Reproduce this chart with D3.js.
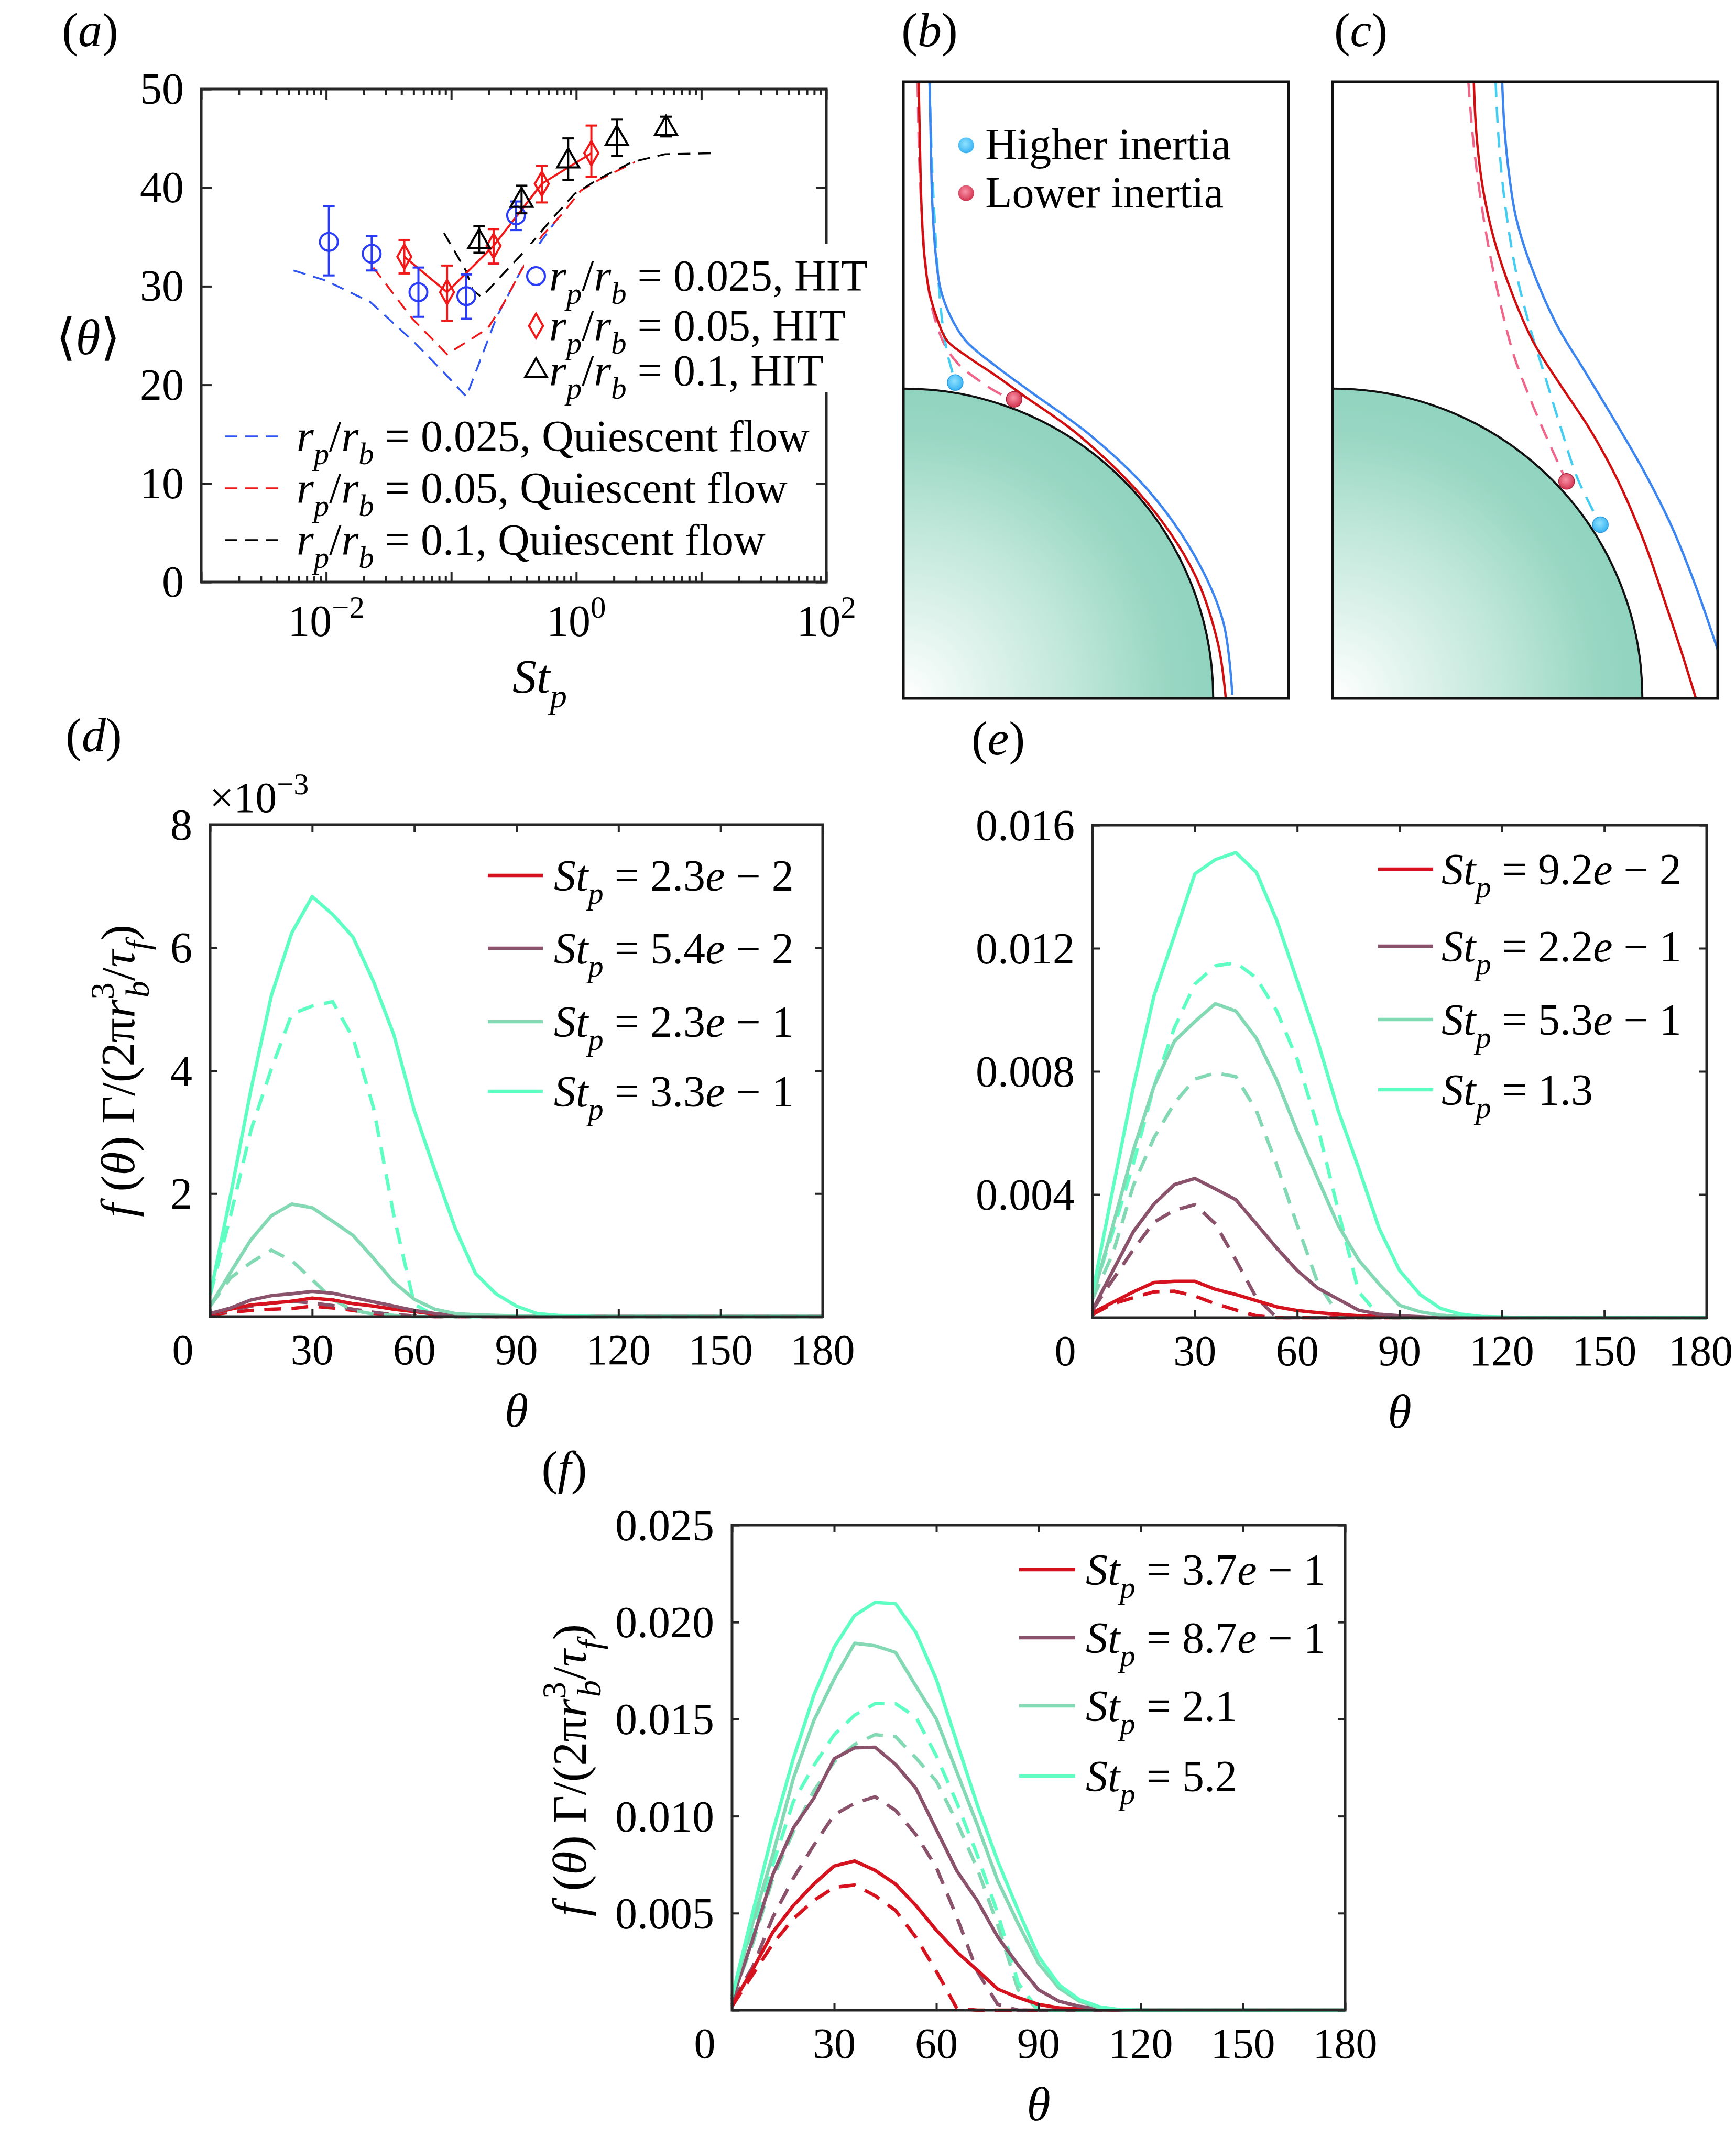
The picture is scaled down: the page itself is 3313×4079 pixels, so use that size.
<!DOCTYPE html>
<html lang="en">
<head>
<meta charset="UTF-8">
<title>Collision angle of particles on a bubble</title>
<style>
  body { margin: 0; background: #fff; }
  svg text { font-family: 'Liberation Serif', 'Times New Roman', serif; fill: #000; }
</style>
</head>
<body>
<script src="https://d3js.org/d3.v7.min.js"></script>
<script>
// ---------- panel (a): mean collision angle vs St_p ----------
const stHit025 = [0.0105, 0.0231, 0.0546, 0.132, 0.330];
const thHit025 = [34.5, 33.3, 29.4, 29.0, 37.2];
const loHit025 = [31.1, 31.6, 26.9, 26.7, 35.7];
const hiHit025 = [38.1, 35.1, 31.9, 31.2, 38.6];

const stHit05 = [0.0421, 0.0925, 0.218, 0.530, 1.32];
const thHit05 = [33.0, 29.4, 34.1, 40.4, 43.5];
const loHit05 = [31.3, 26.5, 32.3, 38.5, 41.1];
const hiHit05 = [34.7, 32.1, 35.8, 42.2, 46.3];

const stHit1 = [0.167, 0.365, 0.861, 2.11, 5.22];
const thHit1 = [34.5, 38.7, 42.7, 45.0, 46.0];
const loHit1 = [33.4, 37.4, 40.8, 43.2, 45.2];
const hiHit1 = [36.1, 40.2, 45.0, 46.9, 47.2];

const stQui025 = [0.00548, 0.00982, 0.0225, 0.0489, 0.0851, 0.132, 0.231, 0.379, 0.780];
const thQui025 = [31.6, 30.6, 28.4, 24.5, 21.4, 18.8, 26.9, 32.1, 37.6];
const stQui05 = [0.0238, 0.0489, 0.0925, 0.195, 0.258, 0.359, 0.530, 0.780, 1.087, 1.52, 2.94];
const thQui05 = [31.9, 26.7, 23.1, 25.7, 28.1, 31.5, 35.1, 37.4, 39.7, 40.8, 42.6];
const stQui1 = [0.0875, 0.132, 0.148, 0.175, 0.258, 0.402, 0.625, 0.973, 1.52, 2.79, 5.13, 12.4];
const thQui1 = [35.4, 31.5, 29.6, 28.9, 31.2, 33.8, 36.7, 39.4, 40.9, 42.6, 43.4, 43.5];

const ratioLabels = ["0.025", "0.05", "0.1"];
const yTicksA = [0, 10, 20, 30, 40, 50];
const xLabelsA = [1e-2, 1e0, 1e2];

// ---------- panels (d)-(f): f(theta) Gamma / (2 pi rb^3 / tau_f), units of 1e-3 ----------
const theta = [0, 6, 12, 18, 24, 30, 36, 42, 48, 54, 60, 66, 72, 78, 84, 90,
  96, 102, 108, 114, 120, 126, 132, 138, 144, 150, 156, 162, 168, 174, 180];
const thetaTicks = [0, 30, 60, 90, 120, 150, 180];

const dRedHit = [0.04, 0.12, 0.19, 0.22, 0.25, 0.30, 0.27, 0.21, 0.17, 0.12,
  0.08, 0.04, 0.02, 0.01, 0, 0, 0, 0, 0, 0, 0, 0, 0, 0, 0, 0, 0, 0, 0, 0, 0];
const dRedQui = [0.02, 0.07, 0.10, 0.12, 0.13, 0.17, 0.14, 0.10, 0.05, 0.03,
  0.01, 0, 0, 0, 0, 0, 0, 0, 0, 0, 0, 0, 0, 0, 0, 0, 0, 0, 0, 0, 0];
const dPurHit = [0.05, 0.14, 0.27, 0.34, 0.37, 0.41, 0.38, 0.31, 0.24, 0.17,
  0.10, 0.05, 0.02, 0.01, 0, 0, 0, 0, 0, 0, 0, 0, 0, 0, 0, 0, 0, 0, 0, 0, 0];
const dPurQui = [0.04, 0.10, 0.17, 0.22, 0.25, 0.22, 0.18, 0.12, 0.07, 0.03,
  0.01, 0, 0, 0, 0, 0, 0, 0, 0, 0, 0, 0, 0, 0, 0, 0, 0, 0, 0, 0, 0];
const dGrnHit = [0.17, 0.72, 1.25, 1.64, 1.83, 1.77, 1.55, 1.32, 0.95, 0.56,
  0.28, 0.12, 0.05, 0.03, 0.02, 0.01, 0, 0, 0, 0, 0, 0, 0, 0, 0, 0, 0, 0, 0, 0, 0];
const dGrnQui = [0.17, 0.63, 0.88, 1.08, 0.91, 0.60, 0.28, 0.10, 0.04, 0.02,
  0, 0, 0, 0, 0, 0, 0, 0, 0, 0, 0, 0, 0, 0, 0, 0, 0, 0, 0, 0, 0];
const dCynHit = [0.35, 1.97, 3.69, 5.22, 6.24, 6.83, 6.54, 6.17, 5.45, 4.58,
  3.35, 2.38, 1.44, 0.70, 0.37, 0.17, 0.05, 0.02, 0.01, 0, 0, 0, 0, 0, 0, 0, 0, 0, 0, 0, 0];
const dCynQui = [0.35, 1.64, 3.03, 4.03, 4.92, 5.05, 5.12, 4.53, 3.40, 1.64,
  0.20, 0.02, 0, 0, 0, 0, 0, 0, 0, 0, 0, 0, 0, 0, 0, 0, 0, 0, 0, 0, 0];
const dLabels = ["2.3e − 2", "5.4e − 2", "2.3e − 1", "3.3e − 1"];

const eRedHit = [0.16, 0.50, 0.84, 1.14, 1.18, 1.18, 0.92, 0.75, 0.55, 0.35,
  0.23, 0.16, 0.11, 0.06, 0.04, 0.02, 0.01, 0, 0, 0, 0, 0, 0, 0, 0, 0, 0, 0, 0, 0, 0];
const eRedQui = [0.10, 0.45, 0.65, 0.84, 0.86, 0.70, 0.45, 0.25, 0.06, 0,
  0, 0, 0, 0, 0, 0, 0, 0, 0, 0, 0, 0, 0, 0, 0, 0, 0, 0, 0, 0, 0];
const ePurHit = [0.25, 1.53, 2.80, 3.69, 4.32, 4.52, 4.18, 3.83, 3.05, 2.26,
  1.53, 0.96, 0.60, 0.24, 0.11, 0.06, 0.03, 0, 0, 0, 0, 0, 0, 0, 0, 0, 0, 0, 0, 0, 0];
const ePurQui = [0.25, 1.24, 2.22, 3.10, 3.49, 3.67, 3.05, 1.87, 0.65, 0,
  0, 0, 0, 0, 0, 0, 0, 0, 0, 0, 0, 0, 0, 0, 0, 0, 0, 0, 0, 0, 0];
const eGrnHit = [0.65, 3.00, 5.45, 7.51, 8.98, 9.62, 10.20, 9.96, 9.08, 7.71,
  6.04, 4.52, 3.00, 1.87, 1.09, 0.40, 0.19, 0.08, 0.03, 0.01, 0, 0, 0, 0, 0, 0, 0, 0, 0, 0, 0];
const eGrnQui = [0.60, 2.10, 4.30, 5.84, 6.97, 7.75, 7.95, 7.83, 6.73, 4.96,
  3.00, 1.14, 0.10, 0, 0, 0, 0, 0, 0, 0, 0, 0, 0, 0, 0, 0, 0, 0, 0, 0, 0];
const eCynHit = [0.79, 4.20, 7.52, 10.45, 12.41, 14.42, 14.88, 15.11, 14.47, 12.90,
  10.94, 8.98, 6.73, 4.86, 2.90, 1.53, 0.75, 0.30, 0.11, 0.04, 0.02, 0, 0, 0, 0, 0, 0, 0, 0, 0, 0];
const eCynQui = [0.75, 2.80, 5.02, 7.51, 9.42, 10.84, 11.43, 11.53, 11.04, 9.96,
  8.39, 6.20, 3.49, 0.84, 0.06, 0, 0, 0, 0, 0, 0, 0, 0, 0, 0, 0, 0, 0, 0, 0, 0];
const eLabels = ["9.2e − 2", "2.2e − 1", "5.3e − 1", "1.3"];

const fRedHit = [0.29, 2.07, 4.03, 5.39, 6.50, 7.43, 7.69, 7.21, 6.50, 5.39,
  4.12, 3.00, 2.07, 1.09, 0.65, 0.30, 0.12, 0.07, 0.03, 0, 0, 0, 0, 0, 0, 0, 0, 0, 0, 0, 0];
const fRedQui = [0.20, 1.82, 3.43, 4.71, 5.65, 6.33, 6.45, 5.90, 5.14, 3.75,
  2.00, 0.10, 0, 0, 0, 0, 0, 0, 0, 0, 0, 0, 0, 0, 0, 0, 0, 0, 0, 0, 0];
const fPurHit = [0.54, 3.60, 7.00, 9.39, 10.92, 12.96, 13.52, 13.55, 12.67, 11.43,
  9.30, 7.18, 5.65, 3.78, 2.33, 1.05, 0.46, 0.20, 0.07, 0, 0, 0, 0, 0, 0, 0, 0, 0, 0, 0, 0];
const fPurQui = [0.46, 2.20, 4.80, 6.80, 8.50, 10.07, 10.66, 11.00, 10.30, 9.05,
  7.35, 4.80, 2.00, 0.30, 0, 0, 0, 0, 0, 0, 0, 0, 0, 0, 0, 0, 0, 0, 0, 0, 0];
const fGrnHit = [0.71, 4.46, 8.03, 11.94, 14.92, 17.07, 18.91, 18.78, 18.44, 16.70,
  15.00, 12.28, 9.56, 6.67, 4.46, 2.41, 1.14, 0.46, 0.12, 0.03, 0, 0, 0, 0, 0, 0, 0, 0, 0, 0, 0];
const fGrnQui = [0.60, 3.40, 6.80, 9.20, 11.30, 12.80, 13.70, 14.20, 14.10, 13.00,
  11.80, 9.70, 7.30, 4.40, 1.05, 0, 0, 0, 0, 0, 0, 0, 0, 0, 0, 0, 0, 0, 0, 0, 0];
const fCynHit = [0.71, 4.97, 9.22, 12.96, 16.22, 18.71, 20.34, 21.02, 20.95, 19.46,
  17.04, 13.81, 10.58, 7.69, 5.14, 2.76, 1.31, 0.54, 0.17, 0.03, 0, 0, 0, 0, 0, 0, 0, 0, 0, 0, 0];
const fCynQui = [0.71, 3.95, 7.50, 10.75, 12.60, 14.20, 15.20, 15.80, 15.80, 15.10,
  13.10, 10.70, 8.00, 5.00, 1.40, 0, 0, 0, 0, 0, 0, 0, 0, 0, 0, 0, 0, 0, 0, 0, 0];
const fLabels = ["3.7e − 1", "8.7e − 1", "2.1", "5.2"];

// ---------- panels (b),(c): sketched trajectories, in sketch units ----------
const bBlue = [[90,181],[92,300],[95,450],[101,560],[110,640],[128,700],[156,755],[212,812],[276,869],[383,963],[491,1087],[576,1232],[628,1377],[645,1540]];
const bRed = [[70,181],[72,300],[75,450],[80,560],[90,650],[105,710],[122,755],[160,791],[212,833],[259,874],[362,963],[491,1117],[576,1273],[619,1428],[633,1548]];
const bPink = [[68,181],[71,350],[76,480],[84,600],[96,690],[118,765],[143,807],[186,848],[221,874],[245,885]];
const bCyan = [[90,181],[94,350],[99,480],[105,600],[112,700],[122,780],[130,817],[137,848]];
const bParticles = [[137,848,"hi"],[245,885,"lo"]];
const cBlue = [[1140,181],[1144,280],[1152,380],[1165,480],[1190,580],[1240,720],[1290,820],[1345,930],[1400,1045],[1450,1165],[1495,1300],[1535,1440],[1560,1530]];
const cRed = [[1088,181],[1093,300],[1105,420],[1125,530],[1158,650],[1198,760],[1245,850],[1300,950],[1350,1060],[1400,1200],[1440,1340],[1470,1450],[1495,1548]];
const cPink = [[1078,181],[1086,300],[1098,420],[1114,540],[1138,680],[1162,790],[1190,880],[1218,960],[1258,1067]];
const cCyan = [[1128,181],[1133,300],[1144,440],[1165,600],[1192,730],[1220,840],[1248,950],[1278,1060],[1320,1163]];
const cParticles = [[1258,1067,"lo"],[1320,1163,"hi"]];
const sphereEdge = 610; // sketch x where the bubble meets the bottom of panel (b)

const lineColors = ["#d5121e", "#8b526c", "#82d9b3", "#5fffc3"];
const axisColor = "#262626";
const pageW = 3313, pageH = 4079;

const svg = d3.select("body").append("svg")
  .attr("width", pageW).attr("height", pageH).attr("viewBox", `0 0 ${pageW} ${pageH}`);

const defs = svg.append("defs");

// text with italic / sub / superscript pieces
function rich(g, x, y, parts, size, anchor) {
  const t = g.append("text").attr("x", x).attr("y", y)
    .attr("font-size", size).attr("text-anchor", anchor || "start");
  let cur = 0;
  parts.forEach(p => {
    const off = p.sub ? 0.3 * size : (p.sup ? -0.42 * size : 0);
    const ts = t.append("tspan").attr("dy", off - cur).text(p.t);
    cur = off;
    if (p.sub || p.sup) ts.attr("font-size", size * 0.7);
    if (p.it) ts.attr("font-style", "italic");
    if (p.dx) ts.attr("dx", p.dx);
  });
  return t;
}

function panelLabel(x, y, letter) {
  rich(svg, x, y, [{t: "("}, {t: letter, it: 1}, {t: ")"}], 92, "middle");
}

function frame(g, x, y, xt, yt, len, xMinor) {
  const [xa, xb] = x.range(), [ya, yb] = y.range();
  const sides = [
    [d3.axisBottom(x), `translate(0,${ya})`, xt, len],
    [d3.axisTop(x), `translate(0,${yb})`, xt, len],
    [d3.axisLeft(y), `translate(${xa},0)`, yt, len],
    [d3.axisRight(y), `translate(${xb},0)`, yt, len]
  ];
  if (xMinor) {
    sides.push([d3.axisBottom(x), `translate(0,${ya})`, xMinor, len * 0.55]);
    sides.push([d3.axisTop(x), `translate(0,${yb})`, xMinor, len * 0.55]);
  }
  sides.forEach(([ax, tr, vals, L]) => {
    g.append("g").attr("transform", tr)
      .call(ax.tickValues(vals).tickSize(-L).tickFormat(""))
      .call(s => s.select(".domain").remove())
      .call(s => s.selectAll("line").attr("stroke", axisColor).attr("stroke-width", 4));
  });
  g.append("rect").attr("x", xa).attr("y", yb).attr("width", xb - xa).attr("height", ya - yb)
    .attr("fill", "none").attr("stroke", axisColor).attr("stroke-width", 5);
}

function rpParts(r, tail) {
  return [{t: "r", it: 1}, {t: "p", it: 1, sub: 1}, {t: "/"}, {t: "r", it: 1},
    {t: "b", it: 1, sub: 1}, {t: " = " + r + ", " + tail}];
}

// ================= panel (a) =================
const gA = svg.append("g");
const xA = d3.scaleLog().domain([1e-3, 1e2]).range([384, 1577]);
const yA = d3.scaleLinear().domain([0, 50]).range([1111, 170]);
const logAll = xA.ticks();
const isDecade = v => Math.abs(Math.log10(v) - Math.round(Math.log10(v))) < 1e-6;
frame(gA, xA, yA, logAll.filter(isDecade), yTicksA, 20, logAll.filter(v => !isDecade(v)));

yTicksA.forEach(v => rich(gA, 351, yA(v) + 28, [{t: String(v)}], 84, "end"));
xLabelsA.forEach(v => {
  const e = Math.round(Math.log10(v));
  rich(gA, xA(v), 1214, [{t: "10"}, {t: String(e).replace("-", "−"), sup: 1}], 84, "middle");
});
rich(gA, 168, 676, [{t: "⟨"}, {t: "θ", it: 1}, {t: "⟩"}], 96, "middle");
rich(gA, 1030, 1322, [{t: "St", it: 1}, {t: "p", it: 1, sub: 1}], 92, "middle");

const quiSets = [[stQui025, thQui025, "#2f55f2"], [stQui05, thQui05, "#f01818"], [stQui1, thQui1, "#000"]];
const lineA = d3.line().x(d => xA(d[0])).y(d => yA(d[1]));
quiSets.forEach(([s, t, c]) => {
  gA.append("path").attr("d", lineA(s.map((v, i) => [v, t[i]])))
    .attr("fill", "none").attr("stroke", c).attr("stroke-width", 3.5).attr("stroke-dasharray", "24,15");
});

const hitSets = [
  [stHit025, thHit025, loHit025, hiHit025, "#2a3cf6", "circle"],
  [stHit05, thHit05, loHit05, hiHit05, "#f01818", "diamond"],
  [stHit1, thHit1, loHit1, hiHit1, "#000", "triangle"]
];
// red HIT series is joined by a solid line
gA.append("path").attr("d", lineA(stHit05.map((v, i) => [v, thHit05[i]])))
  .attr("fill", "none").attr("stroke", "#f01818").attr("stroke-width", 4);

function marker(g, kind, cx, cy, color) {
  if (kind === "circle") {
    g.append("circle").attr("cx", cx).attr("cy", cy).attr("r", 17)
      .attr("fill", "none").attr("stroke", color).attr("stroke-width", 4);
  } else {
    const sym = kind === "diamond" ? d3.symbol(d3.symbolDiamond, 620) : d3.symbol(d3.symbolTriangle, 760);
    g.append("path").attr("d", sym()).attr("transform", `translate(${cx},${cy})`)
      .attr("fill", "none").attr("stroke", color).attr("stroke-width", 4);
  }
}

hitSets.forEach(([s, t, lo, hi, c, kind]) => {
  s.forEach((v, i) => {
    const cx = xA(v);
    gA.append("line").attr("x1", cx).attr("x2", cx).attr("y1", yA(lo[i])).attr("y2", yA(hi[i]))
      .attr("stroke", c).attr("stroke-width", 4);
    [lo[i], hi[i]].forEach(e => gA.append("line").attr("x1", cx - 11).attr("x2", cx + 11)
      .attr("y1", yA(e)).attr("y2", yA(e)).attr("stroke", c).attr("stroke-width", 4));
    marker(gA, kind, cx, yA(t[i]), c);
  });
});

// HIT legend (white box covers the right spine)
gA.append("rect").attr("x", 1000).attr("y", 466).attr("width", 670).attr("height", 282).attr("fill", "#fff");
const hitRows = [527, 622, 708];
hitSets.forEach(([, , , , c, kind], i) => {
  marker(gA, kind, 1023, hitRows[i], c);
  rich(gA, 1048, hitRows[i] + 28, rpParts(ratioLabels[i], "HIT"), 84);
});
const quiRows = [833, 932, 1031];
quiSets.forEach(([, , c], i) => {
  gA.append("line").attr("x1", 429).attr("x2", 536).attr("y1", quiRows[i]).attr("y2", quiRows[i])
    .attr("stroke", c).attr("stroke-width", 3.5).attr("stroke-dasharray", "24,15");
  rich(gA, 566, quiRows[i] + 28, rpParts(ratioLabels[i], "Quiescent flow"), 84);
});
panelLabel(172, 88, "a");

// ================= panels (b), (c) =================
const sphereGrad = defs.append("radialGradient").attr("id", "sphereGrad")
  .attr("cx", "50%").attr("cy", "50%").attr("r", "50%").attr("fx", "50%").attr("fy", "50%");
[[0, "#ffffff"], [0.25, "#e2f4ee"], [0.55, "#c0e7da"], [0.85, "#99d7c3"], [1, "#90d3be"]].forEach(([o, c]) =>
  sphereGrad.append("stop").attr("offset", o).attr("stop-color", c));
const partGrad = {hi: ["#8fe2ff", "#38b2f2"], lo: ["#f893a8", "#d3344f"]};
Object.entries(partGrad).forEach(([k, [c0, c1]]) => {
  const gr = defs.append("radialGradient").attr("id", "part-" + k).attr("cx", "45%").attr("cy", "40%").attr("r", "60%");
  gr.append("stop").attr("offset", 0).attr("stop-color", c0);
  gr.append("stop").attr("offset", 1).attr("stop-color", c1);
});

function sketch(id, dom, px0, curves, particles, legend) {
  const x = d3.scaleLinear().domain(dom).range([px0, px0 + 735]);
  const y = d3.scaleLinear().domain([181, 1548]).range([156, 1333]);
  const g = svg.append("g");
  defs.append("clipPath").attr("id", "clip-" + id).append("rect")
    .attr("x", x.range()[0]).attr("y", 156).attr("width", 735).attr("height", 1177);
  const inner = g.append("g").attr("clip-path", `url(#clip-${id})`);
  const r = x(dom[0] + (sphereEdge - 42)) - x(dom[0]);
  inner.append("circle").attr("cx", x(dom[0])).attr("cy", y(1548)).attr("r", r)
    .attr("fill", "url(#sphereGrad)").attr("stroke", "#111").attr("stroke-width", 4);
  const line = d3.line().x(d => x(d[0])).y(d => y(d[1])).curve(d3.curveCatmullRom.alpha(0.5));
  curves.forEach(([pts, color, dashed]) => {
    inner.append("path").attr("d", line(pts)).attr("fill", "none").attr("stroke", color)
      .attr("stroke-width", 4.5).attr("stroke-dasharray", dashed ? "30,18" : null);
  });
  particles.forEach(([px, py, k]) => {
    inner.append("circle").attr("cx", x(px)).attr("cy", y(py)).attr("r", 15)
      .attr("fill", `url(#part-${k})`).attr("stroke", k === "hi" ? "#2a9ae0" : "#a8203a").attr("stroke-width", 1.5);
  });
  g.append("rect").attr("x", x.range()[0]).attr("y", 156).attr("width", 735).attr("height", 1177)
    .attr("fill", "none").attr("stroke", "#111").attr("stroke-width", 5);
  if (legend) {
    [["hi", "Higher inertia", 322], ["lo", "Lower inertia", 428]].forEach(([k, txt, ly]) => {
      g.append("circle").attr("cx", x(dom[0] + 115)).attr("cy", y(ly)).attr("r", 15)
        .attr("fill", `url(#part-${k})`);
      rich(g, x(dom[0] + 150), y(ly) + 27, [{t: txt}], 84);
    });
  }
}

sketch("b", [42, 748], 1724,
  [[bPink, "#f0668a", true], [bCyan, "#45cdf2", true], [bRed, "#d01010", false], [bBlue, "#3d86f0", false]],
  bParticles, true);
sketch("c", [829, 1535], 2543,
  [[cPink, "#f0668a", true], [cCyan, "#45cdf2", true], [cRed, "#d01010", false], [cBlue, "#3d86f0", false]],
  cParticles, false);
panelLabel(1774, 88, "b");
panelLabel(2597, 88, "c");

// ================= panels (d), (e), (f) =================
const ylabelParts = [{t: "f", it: 1}, {t: " ("}, {t: "θ", it: 1}, {t: ") Γ/(2π"}, {t: "r", it: 1},
  {t: "3", sup: 1}, {t: "b", it: 1, sub: 1, dx: -29}, {t: "/"}, {t: "τ", it: 1}, {t: "f", it: 1, sub: 1}, {t: ")"}];

function profilePanel(box, yMax, yTicks, fmt, hit, qui, labels, leg, ylab) {
  const g = svg.append("g");
  const x = d3.scaleLinear().domain([0, 180]).range([box.x0, box.x1]);
  const y = d3.scaleLinear().domain([0, yMax]).range([box.y1, box.y0]);
  const line = d3.line().x((d, i) => x(theta[i])).y(d => y(d));
  qui.forEach((s, i) => g.append("path").attr("d", line(s)).attr("fill", "none")
    .attr("stroke", lineColors[i]).attr("stroke-width", 6.5).attr("stroke-dasharray", "32,20"));
  hit.forEach((s, i) => g.append("path").attr("d", line(s)).attr("fill", "none")
    .attr("stroke", lineColors[i]).attr("stroke-width", 6.5).attr("stroke-linejoin", "round"));
  frame(g, x, y, thetaTicks, yTicks, 14);
  thetaTicks.forEach(v => {
    const t = rich(g, x(v) + (v === 0 ? -52 : 0), box.y1 + 91, [{t: String(v)}], 82, "middle");
    // keep the last label inside the page
    const half = t.node().getComputedTextLength() / 2;
    if (x(v) + half > pageW - 6) t.attr("x", pageW - 6 - half);
  });
  yTicks.filter(v => v > 0).forEach(v => rich(g, box.x0 - 34, y(v) + 29, [{t: fmt(v)}], 84, "end"));
  labels.forEach((lab, i) => {
    const ly = leg.rows[i];
    g.append("line").attr("x1", leg.lx0).attr("x2", leg.lx1).attr("y1", ly).attr("y2", ly)
      .attr("stroke", lineColors[i]).attr("stroke-width", 6.5);
    const bits = lab.split("e");
    const parts = [{t: "St", it: 1}, {t: "p", it: 1, sub: 1}, {t: " = " + bits[0]}];
    if (bits.length > 1) parts.push({t: "e", it: 1}, {t: bits[1]});
    rich(g, leg.tx, ly + 29, parts, 84);
  });
  rich(g, (box.x0 + box.x1) / 2, box.y1 + 210, [{t: "θ", it: 1}], 92, "middle");
  if (ylab) {
    const gl = g.append("g").attr("transform", `translate(${ylab[0]},${ylab[1]}) rotate(-90)`);
    rich(gl, 0, 30, ylabelParts, 92, "middle");
  }
  return g;
}

const gD = profilePanel({x0: 401, x1: 1570, y0: 1574, y1: 2513}, 8, [0, 2, 4, 6, 8], v => String(v),
  [dRedHit, dPurHit, dGrnHit, dCynHit], [dRedQui, dPurQui, dGrnQui, dCynQui], dLabels,
  {lx0: 931, lx1: 1036, tx: 1057, rows: [1671, 1810, 1950, 2083]}, [226, 2044]);
rich(gD, 400, 1550, [{t: "×10"}, {t: "−3", sup: 1}], 82);
panelLabel(179, 1434, "d");

profilePanel({x0: 2085, x1: 3257, y0: 1575, y1: 2515}, 16, [0, 4, 8, 12, 16], v => (v / 1000).toFixed(3),
  [eRedHit, ePurHit, eGrnHit, eCynHit], [eRedQui, ePurQui, eGrnQui, eCynQui], eLabels,
  {lx0: 2630, lx1: 2735, tx: 2751, rows: [1659, 1806, 1946, 2080]}, null);
panelLabel(1905, 1440, "e");

profilePanel({x0: 1397, x1: 2567, y0: 2911, y1: 3837}, 25, [0, 5, 10, 15, 20, 25], v => (v / 1000).toFixed(3),
  [fRedHit, fPurHit, fGrnHit, fCynHit], [fRedQui, fPurQui, fGrnQui, fCynQui], fLabels,
  {lx0: 1945, lx1: 2052, tx: 2072, rows: [2996, 3126, 3256, 3390]}, [1088, 3379]);
panelLabel(1077, 2833, "f");
</script>
</body>
</html>
